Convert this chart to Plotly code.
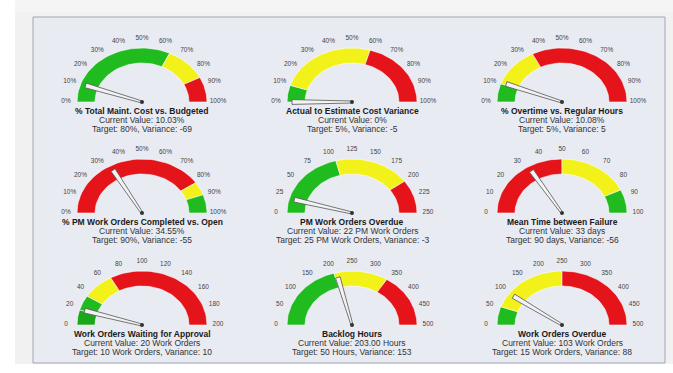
import numpy as np
import plotly.graph_objects as go

# ---------------- data ----------------
titles = [
    "% Total Maint. Cost vs. Budgeted",
    "Actual to Estimate Cost Variance",
    "% Overtime vs. Regular Hours",
    "% PM Work Orders Completed vs. Open",
    "PM Work Orders Overdue",
    "Mean Time between Failure",
    "Work Orders Waiting for Approval",
    "Backlog Hours",
    "Work Orders Overdue",
]
current_text = [
    "Current Value: 10.03%",
    "Current Value: 0%",
    "Current Value: 10.08%",
    "Current Value: 34.55%",
    "Current Value: 22 PM Work Orders",
    "Current Value: 33 days",
    "Current Value: 20 Work Orders",
    "Current Value: 203.00 Hours",
    "Current Value: 103 Work Orders",
]
target_text = [
    "Target: 80%, Variance: -69",
    "Target: 5%, Variance: -5",
    "Target: 5%, Variance: 5",
    "Target: 90%, Variance: -55",
    "Target: 25 PM Work Orders, Variance: -3",
    "Target: 90 days, Variance: -56",
    "Target: 10 Work Orders, Variance: 10",
    "Target: 50 Hours, Variance: 153",
    "Target: 15 Work Orders, Variance: 88",
]
values = [11, 0, 12, 34, 22, 33, 19, 212, 100]
axis_max = [100, 100, 100, 100, 250, 100, 200, 500, 500]
tick_labels = [
    ["0%", "10%", "20%", "30%", "40%", "50%", "60%", "70%", "80%", "90%", "100%"],
    ["0%", "10%", "20%", "30%", "40%", "50%", "60%", "70%", "80%", "90%", "100%"],
    ["0%", "10%", "20%", "30%", "40%", "50%", "60%", "70%", "80%", "90%", "100%"],
    ["0%", "10%", "20%", "30%", "40%", "50%", "60%", "70%", "80%", "90%", "100%"],
    ["0", "25", "50", "75", "100", "125", "150", "175", "200", "225", "250"],
    ["0", "10", "20", "30", "40", "50", "60", "70", "80", "90", "100"],
    ["0", "20", "40", "60", "80", "100", "120", "140", "160", "180", "200"],
    ["0", "50", "100", "150", "200", "250", "300", "350", "400", "450", "500"],
    ["0", "50", "100", "150", "200", "250", "300", "350", "400", "450", "500"],
]
# zone boundaries (in gauge units) and zone type of each band
band_edges = [
    [0, 64, 85, 100],
    [0, 10, 59, 100],
    [0, 11, 35, 100],
    [0, 81, 89, 100],
    [0, 105, 200, 250],
    [0, 50, 86, 100],
    [0, 18, 36, 68, 200],
    [0, 205, 340, 500],
    [0, 55, 250, 500],
]
band_zones = [
    ["good", "warn", "bad"],
    ["good", "warn", "bad"],
    ["good", "warn", "bad"],
    ["bad", "warn", "good"],
    ["good", "warn", "bad"],
    ["bad", "warn", "good"],
    ["best", "good", "warn", "bad"],
    ["good", "warn", "bad"],
    ["good", "warn", "bad"],
]

# ---------------- style / layout ----------------
W, H = 673, 373
zone_color = {"best": "#18a818", "good": "#1fbb1f", "warn": "#f2f21a", "bad": "#e5141b"}
col_x = [142, 352, 562]
row_y = [102, 213, 325]
RX_OUT, RY_OUT = 65, 54
RX_IN, RY_IN = 47, 39
RX_LAB, RY_LAB = 76, 63
RX_NEEDLE, RY_NEEDLE = 60, 49
FONT = "Liberation Sans"

fig = go.Figure()


def ang(v, vmax):
    return np.pi * (1 - v / vmax)


for i in range(9):
    cx = col_x[i % 3]
    cy = row_y[i // 3]
    vmax = axis_max[i]
    edges = band_edges[i]
    # bands
    for k, zone in enumerate(band_zones[i]):
        t = np.linspace(ang(edges[k], vmax), ang(edges[k + 1], vmax), 40)
        xo = cx + RX_OUT * np.cos(t)
        yo = cy - RY_OUT * np.sin(t)
        xi = cx + RX_IN * np.cos(t[::-1])
        yi = cy - RY_IN * np.sin(t[::-1])
        fig.add_trace(go.Scatter(
            x=np.concatenate([xo, xi, xo[:1]]),
            y=np.concatenate([yo, yi, yo[:1]]),
            mode="lines", fill="toself", fillcolor=zone_color[zone],
            line=dict(color="rgba(255,255,255,0.7)", width=0.8),
            hoverinfo="skip", showlegend=False))
    # tick labels
    n = len(tick_labels[i])
    tv = np.linspace(0, vmax, n)
    ta = ang(tv, vmax)
    fig.add_trace(go.Scatter(
        x=cx + RX_LAB * np.cos(ta), y=cy - RY_LAB * np.sin(ta) - 1,
        mode="text", text=tick_labels[i],
        textfont=dict(family=FONT, size=6.5, color="#444"),
        hoverinfo="skip", showlegend=False))
    # needle
    a = ang(values[i], vmax)
    ux, uy = np.cos(a), np.sin(a)
    tipx, tipy = cx + RX_NEEDLE * ux, cy - RY_NEEDLE * uy
    dx, dy = tipx - cx, tipy - cy
    L = np.hypot(dx, dy)
    px, py = -dy / L, dx / L
    wb, wt = 1.0, 2.4
    nx = [cx + px * wb, tipx + px * wt, tipx - px * wt, cx - px * wb, cx + px * wb]
    ny = [cy + py * wb, tipy + py * wt, tipy - py * wt, cy - py * wb, cy + py * wb]
    fig.add_trace(go.Scatter(
        x=nx, y=ny, mode="lines", fill="toself", fillcolor="#f2f2f2",
        line=dict(color="#555", width=0.8), hoverinfo="skip", showlegend=False))
    fig.add_trace(go.Scatter(
        x=[cx], y=[cy], mode="markers",
        marker=dict(size=4, color="#333"), hoverinfo="skip", showlegend=False))
    # texts
    fig.add_annotation(x=cx, y=cy + 8.5, xref="x", yref="y", text="<b>" + titles[i] + "</b>",
                       showarrow=False, font=dict(family=FONT, size=8.5, color="#1a1a1a"))
    fig.add_annotation(x=cx, y=cy + 18, xref="x", yref="y", text=current_text[i],
                       showarrow=False, font=dict(family=FONT, size=8.5, color="#333"))
    fig.add_annotation(x=cx, y=cy + 27, xref="x", yref="y", text=target_text[i],
                       showarrow=False, font=dict(family=FONT, size=8.5, color="#333"))

shapes = [
    dict(type="rect", xref="x", yref="y", x0=15, x1=W, y0=0, y1=364,
         fillcolor="#f1f1f1", line=dict(width=0), layer="below"),
    dict(type="rect", xref="x", yref="y", x0=15, x1=W, y0=0, y1=12,
         fillcolor="#f5f5f5", line=dict(width=0), layer="below"),
    dict(type="rect", xref="x", yref="y", x0=33, x1=665, y0=17, y1=363,
         fillcolor="#e9ebf3", line=dict(color="#a3a7b3", width=1), layer="below"),
]

fig.update_layout(
    width=W, height=H, margin=dict(l=0, r=0, t=0, b=0),
    paper_bgcolor="white", plot_bgcolor="white", shapes=shapes,
    xaxis=dict(range=[0, W], visible=False, fixedrange=True),
    yaxis=dict(range=[H, 0], visible=False, fixedrange=True),
    showlegend=False,
)
fig.write_html("out.html")
